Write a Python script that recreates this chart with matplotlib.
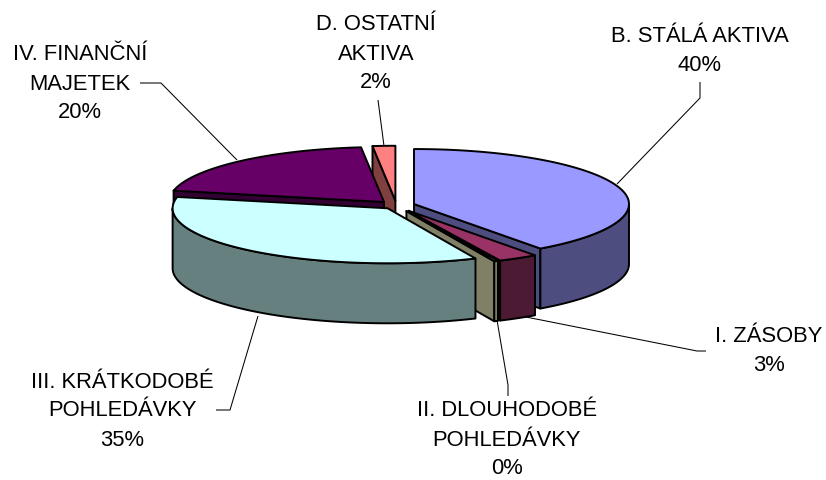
import numpy as np
import matplotlib
matplotlib.use('Agg')
import matplotlib.pyplot as plt
from matplotlib.colors import to_rgb
from matplotlib.patches import Polygon

plt.rcParams['font.family'] = ['Liberation Sans', 'DejaVu Sans']

# Data (percent, clockwise from 12 o'clock)
categories = ['B. STÁLÁ AKTIVA', 'I. ZÁSOBY', 'II. DLOUHODOBÉ\nPOHLEDÁVKY',
              'III. KRÁTKODOBÉ\nPOHLEDÁVKY', 'IV. FINANČNÍ\nMAJETEK', 'D. OSTATNÍ\nAKTIVA']
values = [40, 3, 0.3, 35, 20, 1.7]
pct_labels = ['40%', '3%', '0%', '35%', '20%', '2%']
colors = ['#9999ff', '#993366', '#ffffcc', '#ccffff', '#660066', '#ff8080']

# pie geometry in pixels
cx, cy = 396.4, 205.5
rx, ry = 215, 55
depth = 60
explode = [18.5, 24, 24, 14, 18.5, 18.5]
edge_lw = 1.4

# back to front
draw_order = [5, 4, 0, 1, 2, 3]

# label centres and leader lines, same order as categories
label_pos = [(700, 51), (769, 351), (507, 440), (122, 411), (80, 84), (376, 54)]
leaders = [[(617, 184), (700, 98), (700, 82)],
           [(526, 317), (697, 351), (706, 351)],
           [(497, 320), (508, 385), (508, 396)],
           [(258, 316), (230, 410), (216, 410)],
           [(237, 160), (161, 83), (140, 83)],
           [(384, 146), (378, 100)]]


def ell(center, deg):
    a = np.radians(deg)
    return np.column_stack([center[0] + rx * np.sin(a), center[1] - ry * np.cos(a)])


def face(pts, color):
    ax.add_patch(Polygon(pts, closed=True, facecolor=color, edgecolor='black',
                         linewidth=edge_lw, joinstyle='round'))


fig = plt.figure(figsize=(8.26, 4.8), dpi=100)
ax = fig.add_axes([0, 0, 1, 1])
ax.set_xlim(0, 826)
ax.set_ylim(480, 0)
ax.axis('off')

total = sum(values)
edges = np.concatenate([[0], np.cumsum(values)]) * 360 / total

for i in draw_order:
    a0, a1 = edges[i], edges[i + 1]
    mid = np.radians((a0 + a1) / 2)
    c = (cx + explode[i] * np.sin(mid), cy - explode[i] * ry / rx * np.cos(mid))
    top = colors[i]
    side = tuple(v * 0.5 for v in to_rgb(top))
    drop = np.array([0, depth])

    # cut faces, only those turned to the viewer
    if 180 < a0 < 360:
        p = ell(c, [a0])[0]
        face([c, p, p + drop, np.array(c) + drop], side)
    if 0 < a1 < 180:
        p = ell(c, [a1])[0]
        face([c, p, p + drop, np.array(c) + drop], side)

    # outer wall on the near half
    w0, w1 = max(a0, 90), min(a1, 270)
    if w1 > w0:
        arc = ell(c, np.linspace(w0, w1, 80))
        face(np.vstack([arc, arc[::-1] + drop]), side)

    arc = ell(c, np.linspace(a0, a1, 120))
    face(np.vstack([[c], arc]), top)

for pts in leaders:
    xs, ys = zip(*pts)
    ax.plot(xs, ys, color='black', linewidth=0.75, solid_capstyle='butt')

for name, pct, (x, y) in zip(categories, pct_labels, label_pos):
    ax.text(x, y, name + '\n' + pct, ha='center', va='center', fontsize=15.8,
            linespacing=1.5, color='black')

plt.savefig('out.png', dpi=100)
plt.close()
